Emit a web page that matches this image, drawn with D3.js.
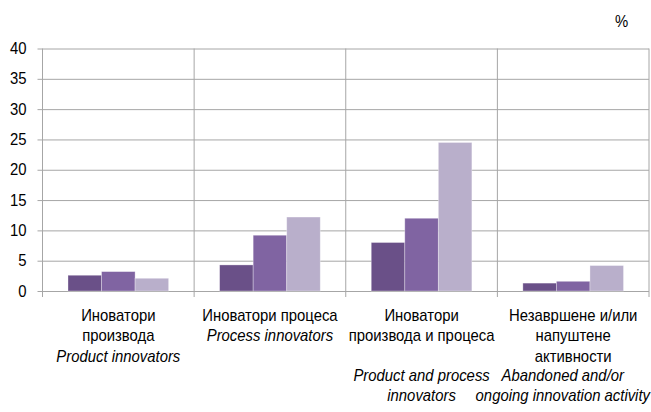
<!DOCTYPE html>
<html>
<head>
<meta charset="utf-8">
<script src="https://cdn.jsdelivr.net/npm/d3@7"></script>
<style>
  body { margin: 0; background: #fff; }
  text { font-family: "Liberation Sans", Arial, sans-serif; fill: #000; font-size: 16px; }
</style>
</head>
<body>
<svg width="651" height="412"></svg>
<script>
// category labels - serbian lines (blank lines keep the english block lower)
const labelsSr = [
    ['Иноватори', 'производа'],
    ['Иноватори процеса'],
    ['Иноватори', 'производа и процеса', ''],
    ['Незавршене и/или', 'напуштене', 'активности']
];
// english lines, drawn in italics under the serbian ones
const labelsEn = [
    ['Product innovators'],
    ['Process innovators'],
    ['Product and process', 'innovators'],
    ['Abandoned and/or', 'ongoing innovation activity']
];
const seriesColors = ['#6a5088', '#8064a2', '#b9afcb'];
const series1 = [2.6, 4.3, 8.0, 1.3];
const series2 = [3.2, 9.2, 12.0, 1.6];
const series3 = [2.1, 12.2, 24.5, 4.2];
const yTicks = [0, 5, 10, 15, 20, 25, 30, 35, 40];

const svg = d3.select('svg');
const plotLeft = 42.5, plotRight = 649, plotTop = 48.5, plotBottom = 291;
const grid = '#a6a6a6';
const narrow = 0.93; // no Arial Narrow here, so squeeze the sans a bit

const y = d3.scaleLinear().domain([0, 40]).range([plotBottom, plotTop]);
const x = d3.scaleBand().domain(d3.range(labelsSr.length)).range([plotLeft, plotRight]);
const xs = d3.scaleBand().domain([0, 1, 2]).range([0, x.bandwidth()]).paddingOuter(0.76);

// horizontal gridlines + left tick stubs
svg.append('g')
    .attr('transform', `translate(${plotLeft},0)`)
    .call(d3.axisLeft(y).tickValues(yTicks).tickSize(-(plotRight - plotLeft)).tickFormat(''))
    .call(g => g.select('.domain').remove())
    .call(g => g.selectAll('line').attr('stroke', grid));

svg.append('g')
    .attr('transform', `translate(${plotLeft},0)`)
    .call(d3.axisLeft(y).tickValues(yTicks).tickSize(5))
    .call(g => g.select('.domain').remove())
    .call(g => g.selectAll('line').attr('stroke', grid))
    .call(g => g.selectAll('text')
        .attr('font-family', null).attr('font-size', null)
        .attr('x', 0)
        .attr('transform', `translate(-16,0) scale(${narrow},1)`));

// vertical lines at category boundaries, running a bit below zero
const edges = d3.range(labelsSr.length + 1).map(i => i < labelsSr.length ? x(i) : plotRight);
svg.append('g').selectAll('line').data(edges).enter().append('line')
    .attr('x1', d => d).attr('x2', d => d)
    .attr('y1', plotTop).attr('y2', plotBottom + 6)
    .attr('stroke', grid);

// bars
const data = [series1, series2, series3];
data.forEach((vals, s) => {
    svg.append('g').selectAll('rect').data(vals).enter().append('rect')
        .attr('x', (d, i) => x(i) + xs(s))
        .attr('y', d => y(d))
        .attr('width', xs.bandwidth())
        .attr('height', d => y(0) - y(d))
        .attr('fill', seriesColors[s])
        .attr('stroke', '#fff')
        .attr('stroke-opacity', 0.4)
        .attr('stroke-width', 0.8);
});

// category labels
const lineH = 20.7, firstLine = 320.5;
const place = (cx, cy) => `translate(${cx},${cy}) scale(${narrow},1)`;
labelsSr.forEach((lines, i) => {
    const cx = x(i) + x.bandwidth() / 2;
    const g = svg.append('g');
    g.selectAll('text.sr').data(lines).enter().append('text')
        .attr('class', 'sr')
        .attr('transform', (d, k) => place(cx, firstLine + k * lineH))
        .attr('text-anchor', 'middle')
        .text(d => d);
    const enY = k => firstLine + (lines.length + k) * lineH - (lines.length > 2 ? 2 : 0);
    const en = g.selectAll('text.en').data(labelsEn[i]).enter().append('text')
        .attr('class', 'en')
        .attr('transform', (d, k) => place(cx, enY(k)))
        .attr('text-anchor', 'middle')
        .style('font-style', 'italic')
        .text(d => d);
    // keep the english block inside the picture
    const widest = d3.max(en.nodes(), n => n.getComputedTextLength()) * narrow;
    const over = cx + widest / 2 - 650;
    if (over > 0) en.attr('transform', (d, k) => place(cx - over, enY(k)));
});

svg.append('text')
    .attr('transform', place(621.5, 27))
    .attr('text-anchor', 'middle')
    .text('%');
</script>
</body>
</html>
